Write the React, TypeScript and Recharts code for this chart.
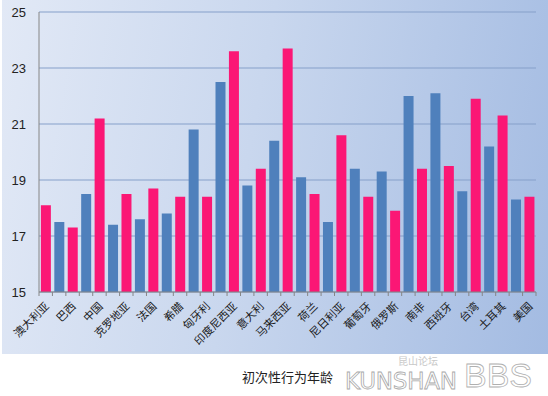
import React from 'react';
import { BarChart, Bar, Cell, XAxis, YAxis, CartesianGrid } from 'recharts';

// 37 bars, only every other one carries a visible label
const labels = [
  '澳大利亚', '巴西', '中国', '克罗地亚', '法国', '希腊', '匈牙利', '印度尼西亚',
  '意大利', '马来西亚', '荷兰', '尼日利亚', '葡萄牙', '俄罗斯', '南非', '西班牙',
  '台湾', '土耳其', '美国',
];

const values = [
  18.1, 17.5, 17.3, 18.5, 21.2, 17.4, 18.5, 17.6, 18.7, 17.8,
  18.4, 20.8, 18.4, 22.5, 23.6, 18.8, 19.4, 20.4, 23.7, 19.1,
  18.5, 17.5, 20.6, 19.4, 18.4, 19.3, 17.9, 22.0, 19.4, 22.1,
  19.5, 18.6, 21.9, 20.2, 21.3, 18.3, 18.4,
];

const yTicks = [15, 17, 19, 21, 23, 25];

const PINK = '#fb1775';
const BLUE = '#4f80bc';

const W = 548;
const H = 354;
const M = { top: 12, right: 12, left: 0, bottom: 0 };
const Y_W = 39;
const STEP = (W - M.right - Y_W) / values.length;

const chartData = values.map((v, i) => ({
  idx: i,
  name: i % 2 === 0 ? labels[i / 2] : '',
  value: v,
}));

const CategoryTick = (props: any) => {
  const { x, y, payload } = props;
  const i = payload.index;
  const isLast = i === values.length - 1;
  const name = chartData[i]?.name;
  return (
    <g>
      <line x1={x - STEP / 2} x2={x - STEP / 2} y1={y - 8} y2={y - 4} stroke="#868686" />
      {isLast && (
        <line x1={x + STEP / 2} x2={x + STEP / 2} y1={y - 8} y2={y - 4} stroke="#868686" />
      )}
      {name && (
        <text
          x={x + 4}
          y={y + 7}
          textAnchor="end"
          transform={`rotate(-45, ${x + 4}, ${y + 7})`}
          fontSize={11}
          fill="#1a1a1a"
          fontFamily="'Noto Sans CJK SC', sans-serif"
        >
          {name}
        </text>
      )}
    </g>
  );
};

export default function App() {
  return (
    <div style={{ position: 'absolute', left: 0, top: 0, width: W, height: 396, background: '#fff' }}>
      <div
        style={{
          position: 'absolute',
          left: 2,
          top: 0,
          width: W - 2,
          height: H,
          background: 'linear-gradient(100deg, #e2e9f6 0%, #c9d7ee 45%, #a3bbe2 100%)',
        }}
      />
      <div style={{ position: 'absolute', left: 0, top: 0 }}>
        <BarChart width={W} height={H} data={chartData} margin={M} barCategoryGap="14%">
          <CartesianGrid vertical={false} stroke="#86a0c9" strokeWidth={1.2} />
          <XAxis
            dataKey="idx"
            interval={0}
            tick={<CategoryTick />}
            tickLine={false}
            axisLine={{ stroke: '#868686' }}
            height={62}
          />
          <YAxis
            domain={[15, 25]}
            ticks={yTicks}
            allowDataOverflow
            width={Y_W}
            tickLine={false}
            tickSize={6}
            tickMargin={7}
            axisLine={{ stroke: '#868686' }}
            tick={{ fontSize: 13, fill: '#222', fontFamily: "'Liberation Sans', Arial, sans-serif" }}
          />
          <Bar dataKey="value" isAnimationActive={false}>
            {chartData.map((d) => (
              <Cell key={d.idx} fill={d.idx % 2 === 0 ? PINK : BLUE} />
            ))}
          </Bar>
        </BarChart>
      </div>
      <svg width={W} height={396 - H + 4} style={{ position: 'absolute', left: 0, top: H - 4, overflow: 'visible' }}>
        <text x={242} y={32} fontSize={13} fill="#222" fontFamily="'Noto Sans CJK SC', serif">
          初次性行为年龄
        </text>
        <text x={398} y={15} fontSize={10} fill="#c8c8c8" fontFamily="'Noto Sans CJK SC', sans-serif">
          昆山论坛
        </text>
        <text x={345} y={39} fontSize={23} fill="#fff" stroke="#a8a8a8" strokeWidth={0.8} fontFamily="'DejaVu Sans', sans-serif" textLength={112}>
          KUNSHAN
        </text>
        <text x={464} y={37} fontSize={34} fill="#fff" stroke="#b0b0b0" strokeWidth={0.8} fontFamily="'Liberation Sans', sans-serif">
          BBS
        </text>
      </svg>
    </div>
  );
}
